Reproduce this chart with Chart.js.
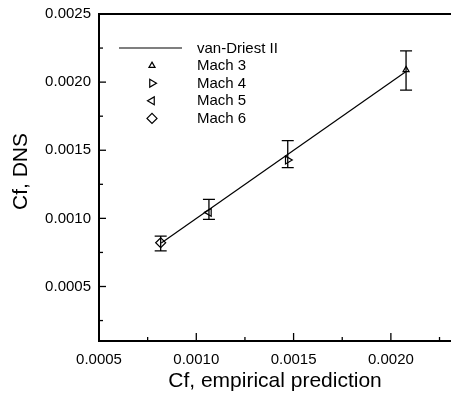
<!DOCTYPE html>
<html><head><meta charset="utf-8">
<script src="https://cdn.jsdelivr.net/npm/chart.js@4/dist/chart.umd.min.js"></script>
<style>html,body{margin:0;padding:0;background:#fff;overflow:hidden}#wrap{width:451px;height:394px;position:relative}</style>
</head><body><div id="wrap"><canvas id="c" width="451" height="394"></canvas></div>
<script>
// ---- data ----
const seriesNames = ['Mach 3', 'Mach 4', 'Mach 5', 'Mach 6'];
const pointStyles = ['triangle', 'triangle', 'triangle', 'rectRot'];
const pointRotations = [0, 90, -90, 0];
const pointRadii = [3.5, 4.5, 4.5, 5];
const empirical = [0.002078, 0.00147, 0.001065, 0.000817];
const dns = [0.00209, 0.001428, 0.001044, 0.000821];
const errLow = [0.001942, 0.001372, 0.000993, 0.000762];
const errHigh = [0.00223, 0.00157, 0.00114, 0.00087];
const lineName = 'van-Driest II';
const lineX = [0.00082, 0.00208];
const lineY = [0.00082, 0.00208];
const xTicks = [0.0005, 0.00075, 0.001, 0.00125, 0.0015, 0.00175, 0.002, 0.00225];
const yTicks = [0.00025, 0.0005, 0.00075, 0.001, 0.00125, 0.0015, 0.00175, 0.002, 0.00225, 0.0025];
const xTitle = 'Cf, empirical prediction';
const yTitle = 'Cf, DNS';

const FONT = "'Liberation Sans', Arial, Helvetica, sans-serif";
const isMajor = v => Math.abs(v / 0.0005 - Math.round(v / 0.0005)) < 1e-6;

const datasets = [{
  label: lineName,
  data: lineX.map((x, i) => ({x: x, y: lineY[i]})),
  showLine: true, borderColor: '#000', borderWidth: 1.2, pointRadius: 0, fill: false
}];
seriesNames.forEach((n, i) => {
  datasets.push({
    label: n,
    data: [{x: empirical[i], y: dns[i]}],
    pointStyle: pointStyles[i], rotation: pointRotations[i], pointRadius: pointRadii[i],
    borderColor: '#000', backgroundColor: 'rgba(0,0,0,0)', pointBorderWidth: 1.2, showLine: false
  });
});

const framePlugin = {
  id: 'frame',
  afterDatasetsDraw(chart) {
    const ctx = chart.ctx, a = chart.chartArea;
    const xs = chart.scales.x, ys = chart.scales.y;
    ctx.save();
    ctx.strokeStyle = '#000';
    // error bars
    ctx.lineWidth = 1.3;
    empirical.forEach((x, i) => {
      const px = xs.getPixelForValue(x);
      const p1 = ys.getPixelForValue(errLow[i]);
      const p2 = ys.getPixelForValue(errHigh[i]);
      ctx.beginPath();
      ctx.moveTo(px, p1); ctx.lineTo(px, p2);
      ctx.moveTo(px - 6, p1); ctx.lineTo(px + 6, p1);
      ctx.moveTo(px - 6, p2); ctx.lineTo(px + 6, p2);
      ctx.stroke();
    });
    // top frame
    ctx.lineWidth = 2;
    ctx.beginPath();
    ctx.moveTo(a.left - 1, a.top); ctx.lineTo(a.right, a.top);
    ctx.stroke();
    // inward ticks
    ctx.lineWidth = 1.3;
    xTicks.forEach(v => {
      const px = xs.getPixelForValue(v);
      const len = isMajor(v) ? 8 : 4;
      ctx.beginPath(); ctx.moveTo(px, a.bottom); ctx.lineTo(px, a.bottom - len); ctx.stroke();
    });
    yTicks.forEach(v => {
      const py = ys.getPixelForValue(v);
      const len = isMajor(v) ? 7 : 4;
      ctx.beginPath(); ctx.moveTo(a.left, py); ctx.lineTo(a.left + len, py); ctx.stroke();
    });
    // legend
    const lx = a.left, ly = a.top;
    ctx.font = '15px ' + FONT;
    ctx.fillStyle = '#000';
    ctx.textBaseline = 'middle';
    ctx.textAlign = 'left';
    const rowH = 17.6;
    ctx.lineWidth = 1.2;
    ctx.beginPath(); ctx.moveTo(lx + 20, ly + 34); ctx.lineTo(lx + 83, ly + 34); ctx.stroke();
    ctx.fillText(lineName, lx + 98, ly + 34.5);
    seriesNames.forEach((n, i) => {
      const y = ly + 34 + rowH * (i + 1);
      if (Chart.helpers && Chart.helpers.drawPoint) {
        ctx.lineWidth = 1.2;
        ctx.strokeStyle = '#000';
        ctx.fillStyle = 'rgba(0,0,0,0)';
        Chart.helpers.drawPoint(ctx, {pointStyle: pointStyles[i], radius: pointRadii[i], rotation: pointRotations[i], borderWidth: 1.2}, lx + 53, y);
      }
      ctx.fillStyle = '#000';
      ctx.fillText(n, lx + 98, y + 0.5);
    });
    // y-axis title (slightly above the centre, as in the reference)
    ctx.font = '21px ' + FONT;
    ctx.textAlign = 'center';
    ctx.textBaseline = 'middle';
    ctx.translate(21, (a.top + a.bottom) / 2 - 6);
    ctx.rotate(-Math.PI / 2);
    ctx.fillText(yTitle, 0, 0);
    ctx.restore();
  }
};

new Chart(document.getElementById('c'), {
  type: 'scatter',
  data: {datasets: datasets},
  plugins: [framePlugin],
  options: {
    responsive: false,
    animation: false,
    layout: {autoPadding: false, padding: {left: 0, top: 14, right: 0, bottom: 0}},
    plugins: {legend: {display: false}, tooltip: {enabled: false}},
    scales: {
      x: {
        type: 'linear', min: 0.0005, max: 0.002309,
        afterFit: s => { s.height = 53; s.paddingLeft = 0; s.paddingRight = 0; },
        afterBuildTicks: s => { s.ticks = xTicks.map(v => ({value: v})); },
        grid: {display: false, drawTicks: false},
        border: {display: true, color: '#000', width: 2},
        ticks: {autoSkip: false, maxRotation: 0, padding: 10, color: '#000',
          font: {family: FONT, size: 15},
          callback: v => isMajor(v) ? v.toFixed(4) : ''},
        title: {display: true, text: xTitle, color: '#000', font: {family: FONT, size: 21}, padding: {top: 0, bottom: 0}}
      },
      y: {
        type: 'linear', min: 0.0001, max: 0.0025,
        afterFit: s => { s.width = 99; s.paddingTop = 0; s.paddingBottom = 0; },
        afterBuildTicks: s => { s.ticks = yTicks.map(v => ({value: v})); },
        grid: {display: false, drawTicks: false},
        border: {display: true, color: '#000', width: 2},
        ticks: {autoSkip: false, padding: 8, color: '#000',
          font: {family: FONT, size: 15},
          callback: v => isMajor(v) ? v.toFixed(4) : ''},
        title: {display: false, text: yTitle}
      }
    }
  }
});
</script>
</body></html>
